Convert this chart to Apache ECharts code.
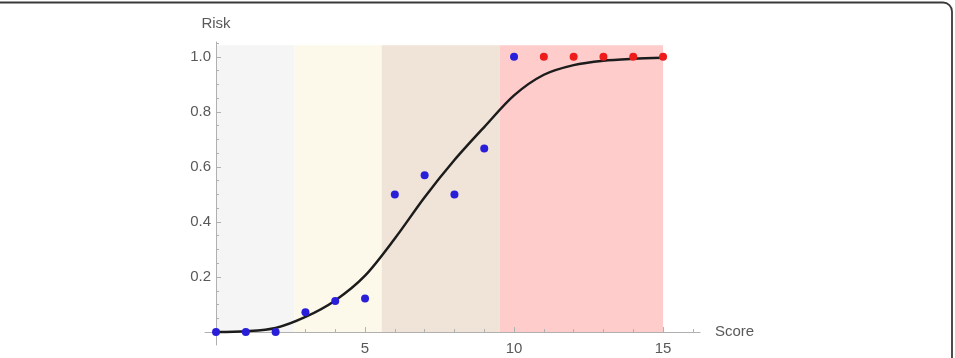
<!DOCTYPE html>
<html>
<head>
<meta charset="utf-8">
<style>
  html, body { margin: 0; padding: 0; background: #fff; }
  #chart { width: 955px; height: 358px; }
</style>
<script src="https://cdn.jsdelivr.net/npm/echarts@6/dist/echarts.min.js"></script>
</head>
<body>
<div id="chart"></div>
<script>
// observed points
const bluePoints = [[0, 0], [1, 0], [2, 0], [3, 0.072], [4, 0.113], [5, 0.122],
  [6, 0.5], [7, 0.57], [8, 0.5], [9, 0.667], [10, 1.0]];
const redPoints = [[11, 1.0], [12, 1.0], [13, 1.0], [14, 1.0], [15, 1.0]];

// fitted curve
const curveX = [0, 1, 2, 3, 4, 5, 6, 7, 8, 9, 10, 11, 12, 13, 14, 15];
const curveY = [0, 0.003, 0.015, 0.055, 0.115, 0.205, 0.34, 0.49, 0.625, 0.745,
  0.86, 0.935, 0.97, 0.986, 0.993, 0.997];

// background risk bands
const bandEdges = [0, 2.63, 5.56, 9.52, 15];
const bandColors = ["#f5f5f5", "#fdf9ea", "#f0e3d7", "#ffcccc"];
const bandTop = 1.042;

const xLabels = [5, 10, 15];
const xMinor = [1, 2, 3, 4, 6, 7, 8, 9, 11, 12, 13, 14, 16];
const yLabels = [0.2, 0.4, 0.6, 0.8, 1.0];
const yMinor = [-0.05, 0.05, 0.1, 0.15, 0.25, 0.3, 0.35, 0.45, 0.5, 0.55, 0.65, 0.7,
  0.75, 0.85, 0.9, 0.95, 1.05];

const textColor = "#595959";
const axisColor = "#b0b0b0";
const font = "Liberation Sans";

const chart = echarts.init(document.getElementById("chart"));

const bands = bandColors.map((c, i) => [
  { xAxis: bandEdges[i], yAxis: 0, itemStyle: { color: c } },
  { xAxis: bandEdges[i + 1], yAxis: bandTop },
]);

const baseX = {
  type: "value",
  min: -0.37,
  max: 16.24,
  position: "bottom",
  splitLine: { show: false },
  z: 4,
};
const baseY = {
  type: "value",
  min: -0.047,
  max: 1.054,
  position: "left",
  splitLine: { show: false },
  z: 4,
};

const option = {
  animation: false,
  textStyle: { fontFamily: font },
  grid: {
    left: 205,
    right: 255,
    top: 42,
    bottom: 13,
    outerBoundsMode: "none",
  },
  graphic: [
    {
      type: "rect",
      silent: true,
      shape: { x: -20, y: 2.5, width: 972, height: 420, r: 9 },
      style: { fill: "none", stroke: "#3a3a3a", lineWidth: 1.8 },
    },
  ],
  xAxis: [
    {
      ...baseX,
      name: "Score",
      nameLocation: "end",
      nameGap: 15,
      nameTextStyle: { color: textColor, fontSize: 15, align: "left", verticalAlign: "middle" },
      axisLine: { onZero: true, lineStyle: { color: axisColor, width: 1 } },
      axisTick: { inside: true, length: 5, customValues: xLabels, lineStyle: { color: axisColor } },
      axisLabel: { customValues: xLabels, color: textColor, fontSize: 15, margin: -4 },
    },
    {
      ...baseX,
      axisLine: { show: false, onZero: true },
      axisTick: { inside: true, length: 3, customValues: xMinor, lineStyle: { color: axisColor } },
      axisLabel: { show: false },
    },
  ],
  yAxis: [
    {
      ...baseY,
      name: "Risk",
      nameLocation: "end",
      nameGap: 11,
      nameTextStyle: { color: textColor, fontSize: 15, align: "center" },
      axisLine: { show: true, onZero: true, lineStyle: { color: axisColor, width: 1 } },
      axisTick: { show: true, inside: true, length: 5, customValues: yLabels, lineStyle: { color: axisColor } },
      axisLabel: {
        customValues: yLabels,
        color: textColor,
        fontSize: 15,
        margin: -6,
        formatter: v => v.toFixed(1),
      },
    },
    {
      ...baseY,
      axisLine: { show: false, onZero: true },
      axisTick: { show: true, inside: true, length: 3, customValues: yMinor, lineStyle: { color: axisColor } },
      axisLabel: { show: false },
    },
  ],
  series: [
    {
      name: "fit",
      type: "line",
      data: curveX.map((x, i) => [x, curveY[i]]),
      smooth: 0.3,
      showSymbol: false,
      symbol: "none",
      lineStyle: { color: "#1c1c1c", width: 2.5 },
      markArea: { silent: true, z: 1, data: bands },
      z: 6,
    },
    {
      name: "observed",
      type: "scatter",
      data: bluePoints,
      symbolSize: 8,
      itemStyle: { color: "#2a1fd8", opacity: 1 },
      z: 7,
    },
    {
      name: "high",
      type: "scatter",
      data: redPoints,
      symbolSize: 8,
      itemStyle: { color: "#ee1b1b", opacity: 1 },
      z: 7,
    },
  ],
};

chart.setOption(option);
</script>
</body>
</html>
